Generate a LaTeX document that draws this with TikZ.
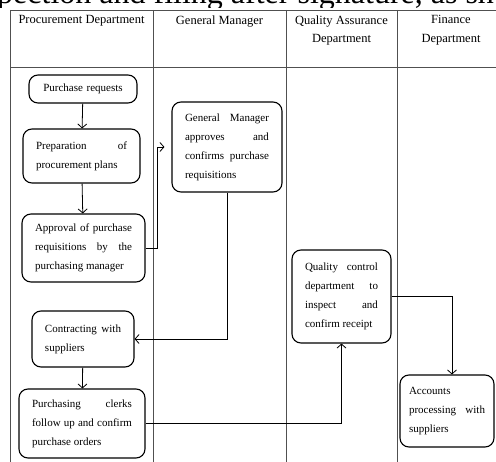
\documentclass[tikz,border=0pt]{standalone}
\usepackage{fontspec}
\setmainfont{Liberation Serif}
\usetikzlibrary{arrows.meta, positioning, calc}
\definecolor{laneGrey}{HTML}{505050}
\newcommand{\boxfont}{\fontsize{11}{19}\selectfont\hyphenpenalty=10000\tolerance=10000}
\tikzset{
  laneline/.style = {laneGrey, line width=0.8pt},
  flow/.style     = {-{Straight Barb[length=4pt, width=9pt]}, line width=0.8pt, black},
  hdr/.style      = {font=\fontsize{12.5}{18.5}\selectfont, align=center, anchor=north, inner sep=0pt},
  stepbox/.style  = {draw, rounded corners=9pt, line width=1.1pt, font=\boxfont,
                     align=justify, inner xsep=13pt, inner ysep=3pt},
}

\begin{document}
\begin{tikzpicture}[x=1pt, y=-1pt]
\useasboundingbox (0,0) rectangle (496,462);
\clip (0,0) rectangle (496,462);

% ---- cut-off line of the running text above the table -------------------
\begin{scope}
  \clip (0,0) rectangle (496,8);
  \node[anchor=base west, inner sep=0pt, font=\fontsize{32}{36}\selectfont] (runon) at (-3,4)
    {pection and filing after signature, as sh};
\end{scope}

% ---- swim lanes ----------------------------------------------------------
\draw[laneline] (10,10) -- (510,10);
\draw[laneline] (10,67) -- (510,67);
\foreach \lx in {10,153,286,397} {
  \draw[laneline] (\lx,10) -- (\lx,470);
}
\node[hdr] (hproc) at (81.5,15.5)  {Procurement Department};
\node[hdr] (hgm)   at (219.5,15.5) {General Manager};
\node[hdr] (hqa)   at (341.5,15.5) {Quality Assurance\\Department};
\node[hdr] (hfin)  at (451,15.5)   {Finance\\Department};

% ---- steps ---------------------------------------------------------------
\node[stepbox, align=center, text width=82pt, minimum height=28pt] (req) at (83,89)
  {Purchase requests};
\node[stepbox, text width=91pt, minimum height=54pt] (prep) at (81.5,156)
  {Preparation of\linebreak procurement plans};
\node[stepbox, text width=97pt, minimum height=68pt] (appr) at (83.5,248)
  {Approval of purchase\linebreak requisitions by the\linebreak purchasing manager};
\node[stepbox, text width=84pt, minimum height=90pt] (gm) at (227,147)
  {General Manager\linebreak approves and\linebreak confirms purchase\linebreak requisitions};
\node[stepbox, text width=76pt, minimum height=56pt] (contr) at (83,339)
  {Contracting with\linebreak suppliers};
\node[stepbox, text width=100pt, minimum height=69pt] (purch) at (82,423.5)
  {Purchasing clerks\linebreak follow up and confirm\linebreak purchase orders};
\node[stepbox, text width=73pt, minimum height=93pt] (qc) at (341.5,296.5)
  {Quality control\linebreak department to\linebreak inspect and\linebreak confirm receipt};
\node[stepbox, text width=76pt, inner xsep=9pt, minimum height=72pt] (acc) at (447,411)
  {Accounts\\ processing with\linebreak suppliers};

% ---- connectors ----------------------------------------------------------
\draw[flow] (req) -- (prep);
\draw[flow] (prep) -- (appr);
\draw[flow, shorten >=7pt] (appr.east) -- ++(12,0) |- (gm.west);
\draw[flow] (gm.south) |- (contr.east);
\draw[flow] (contr) -- (purch);
\draw[flow] (purch.east) -| (qc.south);
\draw[flow] (qc.east) -| ([xshift=5pt]acc.north);

\end{tikzpicture}
\end{document}
